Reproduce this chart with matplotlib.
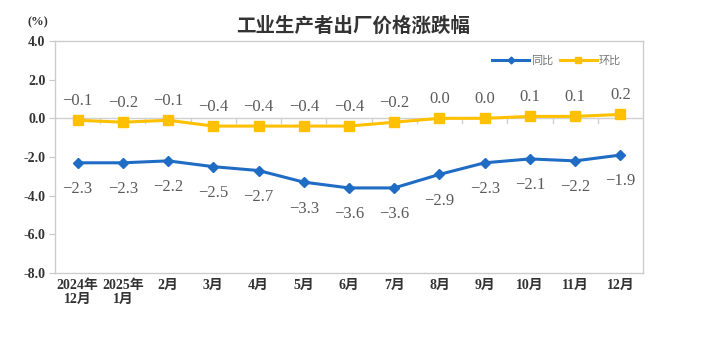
import numpy as np
from matplotlib import pyplot as plt
from matplotlib.lines import Line2D

months = ['2024年\n12月', '2025年\n1月', '2月', '3月', '4月', '5月', '6月',
          '7月', '8月', '9月', '10月', '11月', '12月']
yoy = [-2.3, -2.3, -2.2, -2.5, -2.7, -3.3, -3.6, -3.6, -2.9, -2.3, -2.1, -2.2, -1.9]
mom = [-0.1, -0.2, -0.1, -0.4, -0.4, -0.4, -0.4, -0.2, 0.0, 0.0, 0.1, 0.1, 0.2]
yticks = [4.0, 2.0, 0.0, -2.0, -4.0, -6.0, -8.0]

blue = '#1f6cc4'
yellow = '#ffc000'
numfont = ['Liberation Serif', 'Noto Sans CJK SC']

def fmt(v):
  return f'{v:.1f}'.replace('-', '−')

fig = plt.figure(figsize=(7.12, 3.6), dpi=100)
ax = fig.add_axes([55/712, 1 - 273/360, 588/712, 232/360])
x = np.arange(len(months))

ax.plot(x, yoy, color=blue, lw=2.2, marker='D', ms=5, zorder=3)
ax.plot(x, mom, color=yellow, lw=2.2, marker='s', ms=6.5, zorder=3)

# zero line with ticks between categories
ax.axhline(0, color='#d0d0d0', lw=1, zorder=1)
for b in np.arange(0.5, len(months) - 1, 1):
  ax.plot([b, b], [0, -0.25], color='#d0d0d0', lw=1, zorder=1)

for i in range(len(months)):
  ax.annotate(fmt(yoy[i]), (x[i], yoy[i]), xytext=(0, -19), textcoords='offset points',
              ha='center', va='center', fontsize=12, color='#5a5a5a', family=numfont)
  ax.annotate(fmt(mom[i]), (x[i], mom[i]), xytext=(0, 14), textcoords='offset points',
              ha='center', va='center', fontsize=12, color='#5a5a5a', family=numfont)

ax.set_xlim(-0.5, len(months) - 0.5)
ax.set_ylim(-8, 4)
ax.set_yticks(yticks)
ax.set_yticklabels([f'{v:.1f}' for v in yticks], family=numfont, fontweight='bold',
                   fontsize=10, color='#333333')
ax.set_xticks(x)
ax.set_xticklabels(months, family=numfont, fontweight='bold', fontsize=10,
                   color='#333333', linespacing=1.1, va='top')
ax.tick_params(axis='x', length=0, pad=4)
ax.tick_params(axis='y', length=4, color='#c8c8c8', pad=3)
for s in ax.spines.values():
  s.set_color('#cccccc')
  s.set_linewidth(1)

handles = [Line2D([], [], color=blue, lw=2.2, marker='D', ms=3.5),
           Line2D([], [], color=yellow, lw=2.2, marker='s', ms=5)]
ax.legend(handles, ['同比', '环比'], loc='upper right', bbox_to_anchor=(0.98, 0.98),
          ncol=2, frameon=False, handlelength=3.3, handletextpad=0.2, columnspacing=0.6,
          prop={'family': 'Noto Sans CJK SC', 'size': 8}, labelcolor='#777777')

fig.text(27/712, 1 - 22/360, '(%)', ha='left', va='center', fontsize=9,
         fontweight='bold', family=numfont, color='#333333')
fig.text(353/712, 1 - 26/360, '工业生产者出厂价格涨跌幅', ha='center', va='center',
         fontsize=14, fontweight='bold', family='Noto Sans CJK SC', color='#333333')

fig.savefig('out.png', dpi=100)
